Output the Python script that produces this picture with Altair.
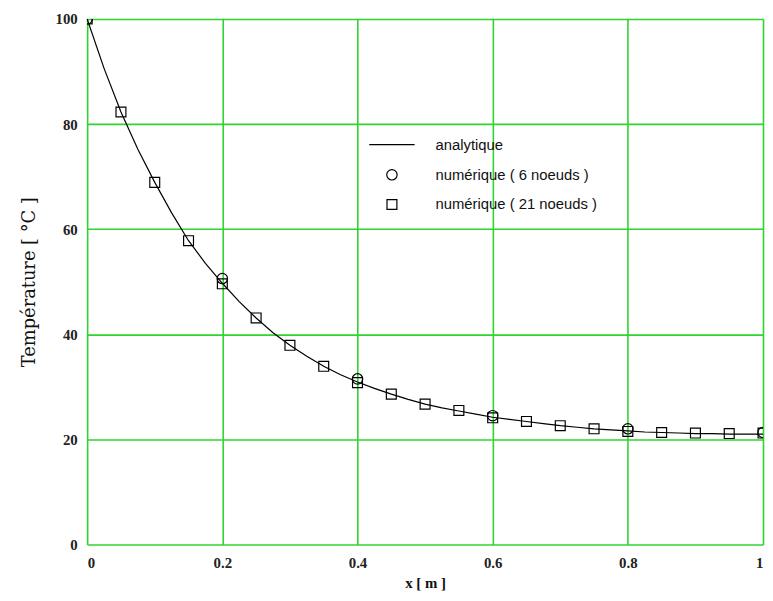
import altair as alt
import pandas as pd

# analytic curve
x_line = [0, 0.025, 0.05, 0.075, 0.1, 0.125, 0.15, 0.175, 0.2, 0.225, 0.25, 0.275, 0.3, 0.325,
          0.35, 0.375, 0.4, 0.425, 0.45, 0.475, 0.5, 0.525, 0.55, 0.575, 0.6, 0.625, 0.65, 0.675,
          0.7, 0.725, 0.75, 0.775, 0.8, 0.825, 0.85, 0.875, 0.9, 0.925, 0.95, 0.975, 1.0]
t_line = [100, 90.6, 82.3, 75.2, 68.9, 63.1, 57.8, 53.5, 49.7, 46.2, 43.1, 40.3, 37.9, 35.8,
          33.9, 32.3, 30.9, 29.7, 28.6, 27.6, 26.7, 26.0, 25.4, 24.8, 24.2, 23.8, 23.4, 23.0,
          22.6, 22.3, 22.0, 21.8, 21.6, 21.4, 21.3, 21.2, 21.1, 21.1, 21.0, 21.0, 21.0]

# numerical, 6 nodes
x6 = [0, 0.2, 0.4, 0.6, 0.8, 1.0]
t6 = [100, 50.6, 31.5, 24.5, 22.0, 21.3]

# numerical, 21 nodes
x21 = [0, 0.05, 0.1, 0.15, 0.2, 0.25, 0.3, 0.35, 0.4, 0.45, 0.5, 0.55, 0.6, 0.65, 0.7,
       0.75, 0.8, 0.85, 0.9, 0.95, 1.0]
t21 = [100, 82.3, 68.9, 57.8, 49.6, 43.1, 37.9, 33.9, 30.8, 28.6, 26.7, 25.5, 24.1, 23.4,
       22.6, 22.0, 21.5, 21.3, 21.2, 21.1, 21.2]

series = ["analytique", "numérique ( 6 noeuds )", "numérique ( 21 noeuds )"]

df_line = pd.DataFrame({"x": x_line, "T": t_line, "s": series[0]})
df6 = pd.DataFrame({"x": x6, "T": t6, "s": series[1]})
df21 = pd.DataFrame({"x": x21, "T": t21, "s": series[2]})

green = "#2fd42f"

xs = alt.Scale(domain=[0, 1], nice=False, zero=False)
ys = alt.Scale(domain=[0, 100], nice=False)

xax = alt.Axis(title="x [ m ]", values=[0, 0.2, 0.4, 0.6, 0.8, 1.0],
               labelExpr="datum.value == 0 ? '0' : datum.value == 1 ? '1' : format(datum.value, '.1f')")
yax = alt.Axis(title="Température [ °C ]", values=[0, 20, 40, 60, 80, 100])

shape_scale = alt.Scale(domain=series, range=["stroke", "circle", "square"])
size_scale = alt.Scale(type="ordinal", domain=series, range=[2100, 110, 100])

legend = alt.Legend(title=None, orient="none", legendX=284, legendY=103,
                    labelFont="Liberation Sans", labelFontSize=15, labelColor="#111",
                    labelLimit=400,
                    symbolStrokeColor="black", symbolStrokeWidth=1.2, labelOffset=20,
                    rowPadding=14)

line = alt.Chart(df_line).mark_line(color="black", strokeWidth=1.2).encode(
    x=alt.X("x:Q", scale=xs, axis=xax),
    y=alt.Y("T:Q", scale=ys, axis=yax),
)

pts6 = alt.Chart(df6).mark_point(color="black", filled=False, strokeWidth=1.2, clip=True,
                                 opacity=1).encode(
    x=alt.X("x:Q", scale=xs),
    y=alt.Y("T:Q", scale=ys),
    shape=alt.Shape("s:N", scale=shape_scale, legend=legend),
    size=alt.Size("s:N", scale=size_scale, legend=legend),
)

pts21 = alt.Chart(df21).mark_point(color="black", filled=False, strokeWidth=1.2, clip=True,
                                   opacity=1).encode(
    x=alt.X("x:Q", scale=xs),
    y=alt.Y("T:Q", scale=ys),
    shape=alt.Shape("s:N", scale=shape_scale, legend=legend),
    size=alt.Size("s:N", scale=size_scale, legend=legend),
)

chart = (line + pts6 + pts21).properties(
    width=683, height=531,
    autosize=alt.AutoSizeParams(type="none"),
    padding={"left": 80, "top": 8, "right": 2, "bottom": 46},
).configure_view(stroke=None).configure_axis(
    grid=True, gridColor=green, gridWidth=1.6, gridOpacity=1,
    domain=False, ticks=False,
    labelFont="Liberation Serif", labelFontSize=15, labelFontWeight="bold", labelColor="#222",
    titleFont="DejaVu Serif", titleFontSize=18, titleFontWeight="normal", titleColor="#111",
).configure_axisY(titlePadding=17, labelPadding=10).configure_axisX(
    titlePadding=6, labelPadding=11, titleFont="Liberation Serif", titleFontWeight="bold",
    titleFontSize=15)

chart.save("out.html", embed_options={"renderer": "svg", "actions": False})
